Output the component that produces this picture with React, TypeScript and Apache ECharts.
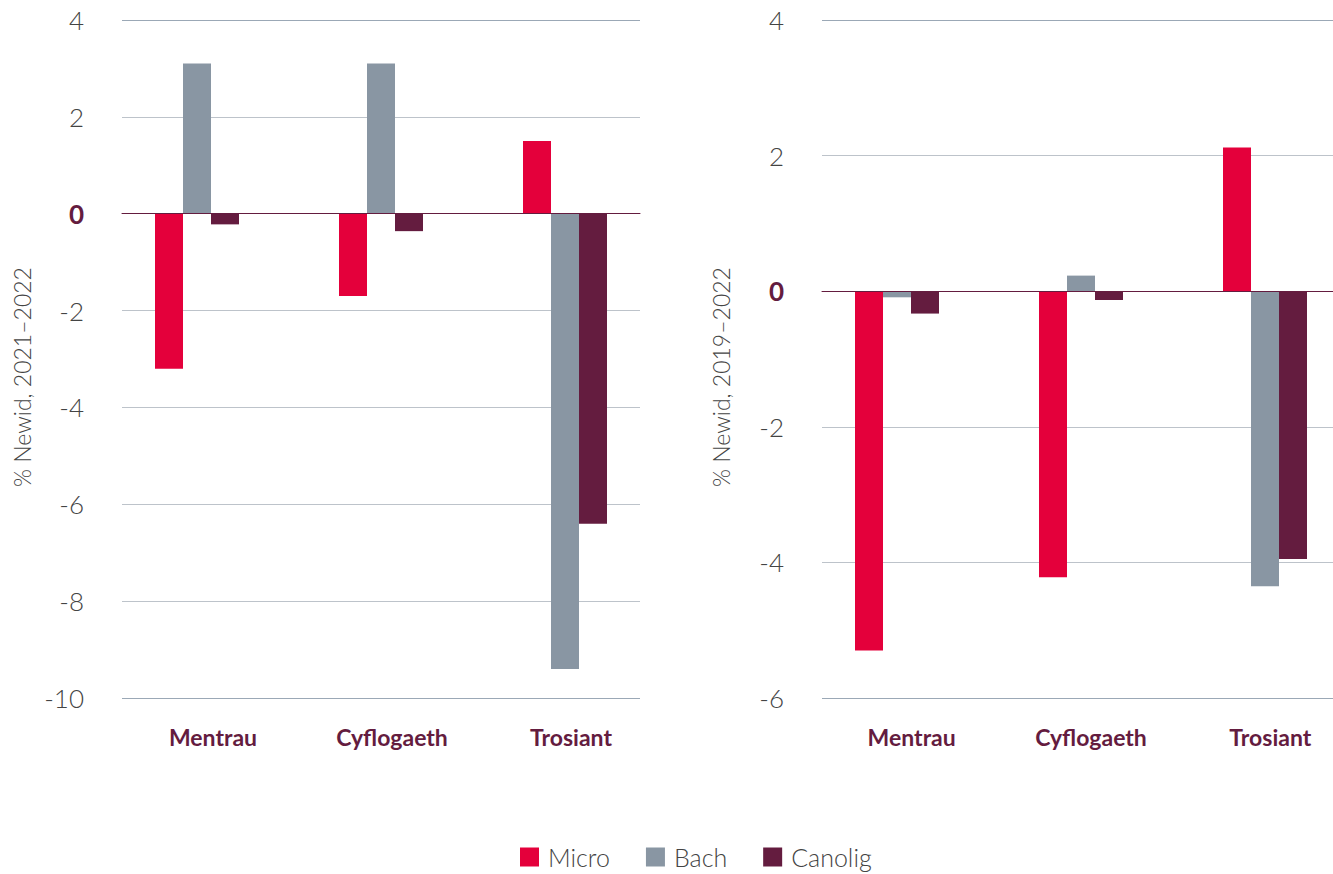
import React, { useEffect, useRef } from "react";
import * as echarts from "echarts";

const categories = ["Mentrau", "Cyflogaeth", "Trosiant"];
const seriesNames = ["Micro", "Bach", "Canolig"];
const colors = ["#e4003b", "#8996a3", "#641c3f"];

// % change 2021–2022 (left chart)
const left_micro = [-3.2, -1.7, 1.5];
const left_bach = [3.1, 3.1, -9.4];
const left_canolig = [-0.22, -0.36, -6.4];

// % change 2019–2022 (right chart)
const right_micro = [-5.3, -4.22, 2.12];
const right_bach = [-0.09, 0.23, -4.35];
const right_canolig = [-0.33, -0.13, -3.95];

const leftAxisName = "% Newid, 2021\u20132022";
const rightAxisName = "% Newid, 2019\u20132022";

const FONT = "Lato, 'Open Sans', sans-serif";
const MAROON = "#641c3f";
const EDGE_LINE = "#9ba8b6";
const MID_LINE = "#bdc3ca";

export default function App() {
  const ref = useRef<HTMLDivElement>(null);

  useEffect(() => {
    if (!ref.current) return;
    const chart = echarts.init(ref.current, undefined, { renderer: "svg" });

    const TOP = 20;
    const H = 678;
    const W = 1333;

    const grids = [
      // left chart
      { left: 105, width: 552, top: TOP, height: H }, // bars
      { left: 122, width: 518, top: TOP, height: H }, // gridlines + y labels
      { left: 123.5, width: 537, top: 56, height: 642 }, // x labels + name
      // right chart
      { left: 805, width: 552, top: TOP, height: H },
      { left: 822, width: W - 822, top: TOP, height: H },
      { left: 822, width: 538, top: 56, height: 642 },
    ];

    const hiddenCat = (gridIndex: number) => ({
      type: "category",
      gridIndex,
      data: categories,
      show: false,
    });
    const zeroCat = (gridIndex: number) => ({
      type: "category",
      gridIndex,
      data: categories,
      axisLine: { show: true, onZero: true, lineStyle: { color: MAROON, width: 1 } },
      axisTick: { show: false },
      axisLabel: { show: false },
      z: 5,
    });
    const labelCat = (gridIndex: number) => ({
      type: "category",
      gridIndex,
      data: categories,
      axisLine: { show: false },
      axisTick: { show: false },
      axisLabel: {
        show: true,
        margin: 27,
        color: MAROON,
        fontFamily: FONT,
        fontWeight: "bold",
        fontSize: 23,
      },
    });

    const hiddenVal = (gridIndex: number, min: number, max: number) => ({
      type: "value",
      gridIndex,
      min,
      max,
      show: false,
      splitLine: { show: false },
    });
    const gridVal = (gridIndex: number, min: number, max: number) => {
      const n = Math.round((max - min) / 2) + 1;
      const lineColors: string[] = [];
      for (let i = 0; i < n; i++) lineColors.push(i === 0 || i === n - 1 ? EDGE_LINE : MID_LINE);
      return {
        type: "value",
        gridIndex,
        min,
        max,
        interval: 2,
        axisLine: { show: false },
        axisTick: { show: false },
        splitLine: { show: true, lineStyle: { color: lineColors, width: 1 } },
        axisLabel: {
          margin: 38,
          fontFamily: FONT,
          fontSize: 26,
          fontWeight: 300,
          color: (v: any) => (Number(v) === 0 ? MAROON : "#444"),
          formatter: (v: any) => (Number(v) === 0 ? "{z|0}" : String(v)),
          rich: {
            z: { fontFamily: FONT, fontSize: 26, fontWeight: "bold", color: MAROON },
          },
        },
      };
    };
    const nameVal = (gridIndex: number, name: string) => ({
      type: "value",
      gridIndex,
      min: 0,
      max: 1,
      name,
      nameLocation: "middle",
      nameGap: 90,
      nameTextStyle: { fontFamily: FONT, fontSize: 23, fontWeight: 300, color: "#444" },
      axisLine: { show: false },
      axisTick: { show: false },
      axisLabel: { show: false },
      splitLine: { show: false },
    });

    const mkSeries = (name: string, data: number[], idx: number, axis: number) => ({
      type: "bar",
      name,
      data,
      xAxisIndex: axis,
      yAxisIndex: axis,
      barWidth: 28,
      barGap: "0%",
      itemStyle: { color: colors[idx] },
      z: 3,
    });

    chart.setOption({
      animation: false,
      backgroundColor: "#ffffff",
      grid: grids,
      legend: {
        data: seriesNames,
        left: 520,
        top: 844,
        padding: 0,
        itemWidth: 19,
        itemHeight: 19,
        itemGap: 36,
        icon: "rect",
        textStyle: {
          fontFamily: FONT,
          fontSize: 25,
          lineHeight: 26,
          fontWeight: 300,
          color: "#444",
          padding: [0, 0, 0, 4],
        },
      },
      xAxis: [hiddenCat(0), zeroCat(1), labelCat(2), hiddenCat(3), zeroCat(4), labelCat(5)],
      yAxis: [
        hiddenVal(0, -10, 4),
        gridVal(1, -10, 4),
        nameVal(2, leftAxisName),
        hiddenVal(3, -6, 4),
        gridVal(4, -6, 4),
        nameVal(5, rightAxisName),
      ],
      series: [
        mkSeries("Micro", left_micro, 0, 0),
        mkSeries("Bach", left_bach, 1, 0),
        mkSeries("Canolig", left_canolig, 2, 0),
        mkSeries("Micro", right_micro, 0, 3),
        mkSeries("Bach", right_bach, 1, 3),
        mkSeries("Canolig", right_canolig, 2, 3),
      ],
    });

    return () => chart.dispose();
  }, []);

  return (
    <div
      style={{
        position: "absolute",
        left: 0,
        top: 0,
        width: 1333,
        height: 874,
        overflow: "hidden",
      }}
    >
      <div ref={ref} style={{ width: 1370, height: 874 }} />
    </div>
  );
}
